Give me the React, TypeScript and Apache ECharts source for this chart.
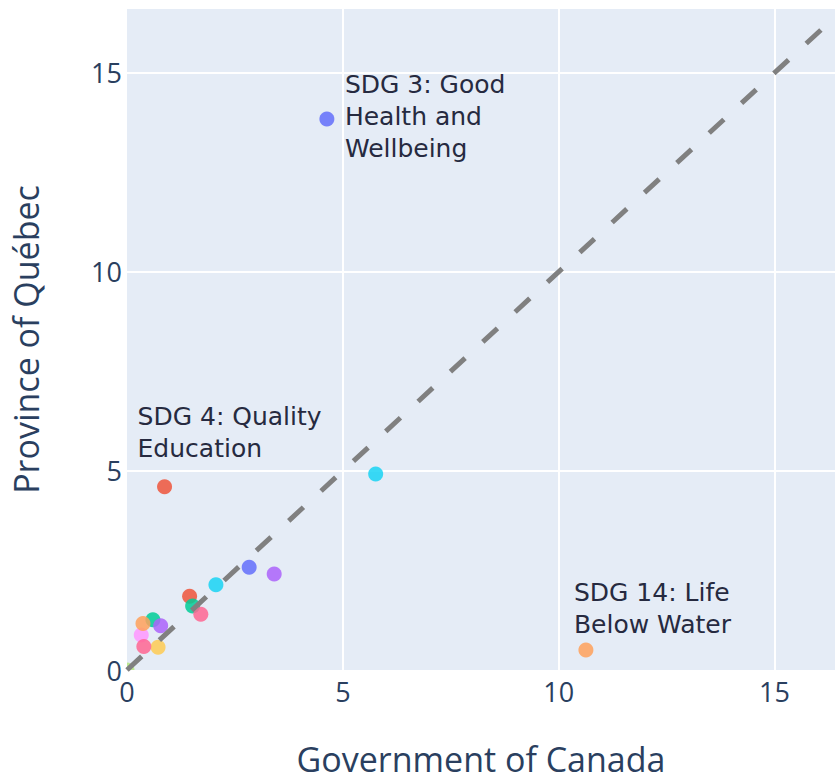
import React, { useEffect, useRef } from "react";
import * as echarts from "echarts";

// Government of Canada (x) vs Province of Québec (y), one value per SDG point
const GOV_CANADA = [4.63, 1.45, 1.52, 3.41, 10.63, 5.76, 1.71, 0.0, 0.33, 0.72, 2.83, 0.87, 0.6, 0.78, 0.37, 2.06, 0.39];
const QUEBEC = [13.84, 1.85, 1.61, 2.41, 0.5, 4.92, 1.4, 0.0, 0.88, 0.57, 2.58, 4.6, 1.26, 1.11, 1.17, 2.14, 0.59];
const POINT_COLORS = [
  "#636EFA", "#EF553B", "#00CC96", "#AB63FA", "#FFA15A", "#19D3F3", "#FF6692", "#B6E880", "#FF97FF", "#FECB52",
  "#636EFA", "#EF553B", "#00CC96", "#AB63FA", "#FFA15A", "#19D3F3", "#FF6692",
];
const POINT_LABELS = [
  "SDG 3: Good\nHealth and\nWellbeing", "", "", "", "SDG 14: Life\nBelow Water", "", "", "", "", "",
  "", "SDG 4: Quality\nEducation", "", "", "", "", "",
];
const X_TICK_INTERVAL = 5;
const X_MAX = 16.4;
const Y_MAX = 16.6;
const DIAGONAL = [0, 16.4];

// label placement (style, not data)
const LABEL_PLACEMENT: Record<number, { dx: number; dy: number; v: string }> = {
  0: { dx: 18, dy: -2, v: "middle" },
  4: { dx: -12, dy: -10, v: "bottom" },
  11: { dx: -27, dy: -22, v: "bottom" },
};

export default function App() {
  const ref = useRef<HTMLDivElement>(null);
  useEffect(() => {
    document.body.style.margin = "0";
    if (!ref.current) return;
    const chart = echarts.init(ref.current, undefined, { renderer: "svg" });
    const tickColor = "#2a3f5f";
    const axisCommon = {
      type: "value" as const,
      min: 0,
      interval: X_TICK_INTERVAL,
      axisLine: { show: false },
      axisTick: { show: false },
      splitLine: { show: true, showMinLine: false, showMaxLine: false, lineStyle: { color: "#ffffff", width: 2 } },
      nameLocation: "middle" as const,
      nameTextStyle: { fontSize: 34, lineHeight: 28, color: tickColor, fontFamily: "Open Sans" },
    };
    chart.setOption({
      animation: false,
      grid: {
        left: 127,
        right: 0,
        top: 9,
        bottom: 104,
        outerBoundsMode: "none",
        containLabel: false,
        show: true,
        backgroundColor: "#E5ECF6",
        borderWidth: 0,
      },
      xAxis: {
        ...axisCommon,
        max: X_MAX,
        name: "Government of Canada",
        nameGap: 75,
        axisLabel: { showMaxLabel: false, fontSize: 27, color: tickColor, fontFamily: "Open Sans", margin: 8 },
      },
      yAxis: {
        ...axisCommon,
        max: Y_MAX,
        name: "Province of Québec",
        nameGap: 87,
        axisLabel: { showMaxLabel: false, fontSize: 27, color: tickColor, fontFamily: "Open Sans", margin: 5 },
      },
      series: [
        {
          type: "custom",
          clip: true,
          z: 2,
          data: GOV_CANADA.map((x, i) => [x, QUEBEC[i]]),
          renderItem: (params: any, api: any) => {
            const i = params.dataIndex;
            const p = api.coord([api.value(0), api.value(1)]);
            const children: any[] = [
              {
                type: "circle",
                shape: { cx: p[0], cy: p[1], r: 7.5 },
                style: { fill: POINT_COLORS[i], opacity: 0.85 },
              },
            ];
            const text = POINT_LABELS[i];
            if (text) {
              const pl = LABEL_PLACEMENT[i] || { dx: 12, dy: 0, v: "middle" };
              children.push({
                type: "text",
                x: p[0] + pl.dx,
                y: p[1] + pl.dy,
                style: {
                  text,
                  fontSize: 25,
                  lineHeight: 32,
                  fontFamily: "DejaVu Sans",
                  fill: "#262a40",
                  align: "left",
                  verticalAlign: pl.v,
                },
              });
            }
            return { type: "group", children };
          },
        },
        {
          type: "line",
          z: 3,
          data: [[DIAGONAL[0], DIAGONAL[0]], [DIAGONAL[1], DIAGONAL[1]]],
          symbol: "none",
          silent: true,
          lineStyle: { color: "#808080", width: 5, type: [20, 24], cap: "butt" },
        },
      ],
    });
    return () => chart.dispose();
  }, []);
  return <div ref={ref} style={{ width: 835, height: 774 }} />;
}
